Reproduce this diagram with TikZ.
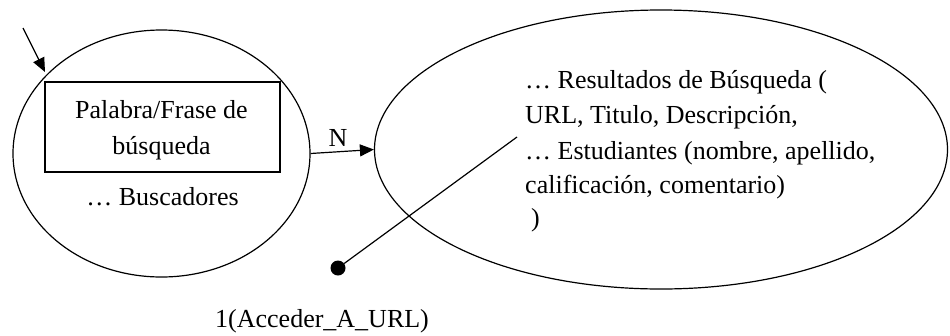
\documentclass[tikz,border=0pt]{standalone}
\usepackage{fontspec}
\setmainfont{Liberation Serif}
\usetikzlibrary{shapes.geometric,arrows.meta}
\begin{document}
\begin{tikzpicture}[x=1pt,y=-1pt,
  every node/.style={font=\fontsize{26}{36}\selectfont},
  bubble/.style={draw,line width=1.2pt,ellipse,inner sep=0pt},
  box/.style={draw,line width=1.2pt,rectangle,inner sep=0pt,align=center},
  txt/.style={inner sep=0pt,anchor=base west},
  link/.style={line width=1.2pt},
  arr/.style={link,-{Triangle[length=14pt,width=12pt]}},
  endpoint/.style={circle,fill,inner sep=0pt,minimum size=15pt}]
\useasboundingbox (0,0) rectangle (950,335);
% states
\node[bubble,minimum width=297pt,minimum height=247pt] (buscar) at (161.5,153.5) {};
\node[bubble,minimum width=573pt,minimum height=279pt] (result) at (661,149.5) {};
% contents of the first state
\node[box,minimum width=235pt,minimum height=90pt] (frase) at (162.5,127) {};
\node[inner sep=0pt,anchor=base] (f1) at (161.5,118) {Palabra/Frase de};
\node[inner sep=0pt,anchor=base] (f2) at (161.5,154) {búsqueda};
\node[inner sep=0pt,anchor=base] (busc) at (162.5,205) {\dots{} Buscadores};
% contents of the second state
\node[txt] (r1) at (525,88)  {\dots{} Resultados de Búsqueda (};
\node[txt] (r2) at (525,123) {URL, Titulo, Descripción,};
\node[txt] (r3) at (525,159) {\dots{} Estudiantes (nombre, apellido,};
\node[txt] (r4) at (525,193) {calificación, comentario)};
\node[txt] (r5) at (531,226) {)};
% entry arrow
\coordinate (start) at (23,28);
\coordinate (entry) at (45,72);
\draw[arr] (start) -- (entry);
% transition between the states
\draw[arr] (buscar.east) -- (result.west);
\node[inner sep=0pt,anchor=base] (n) at (338,146) {N};
% link to the action
\coordinate (inner) at (517,137);
\node[endpoint] (dot) at (338,268) {};
\draw[link] (inner) -- (dot);
\node[txt] (accion) at (215,327) {1(Acceder\_A\_URL)};
\end{tikzpicture}
\end{document}
